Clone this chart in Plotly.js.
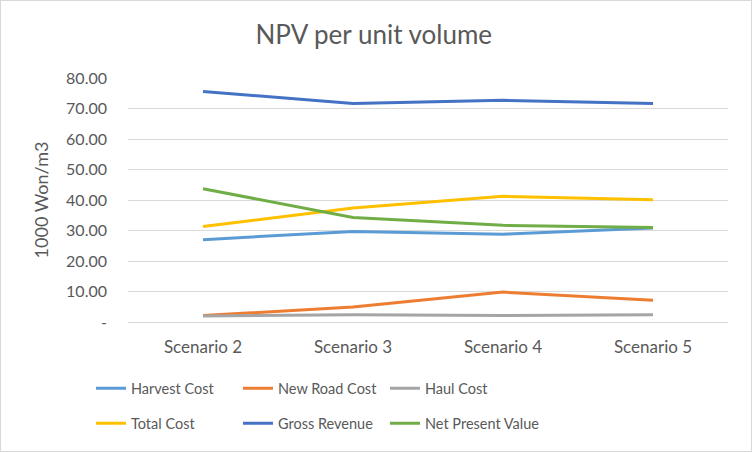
<!DOCTYPE html>
<html>
<head>
<meta charset="utf-8">
<script src="https://cdn.plot.ly/plotly-3.0.1.min.js"></script>
<style>
  html, body { margin: 0; padding: 0; background: #fff; }
  #frame { width: 752px; height: 452px; box-sizing: border-box; border: 1px solid #D9D9D9; }
  #chart { width: 750px; height: 450px; }
</style>
</head>
<body>
<div id="frame"><div id="chart"></div></div>
<script>
const categories = ["Scenario 2", "Scenario 3", "Scenario 4", "Scenario 5"];
const harvestCost = [27.0, 29.7, 28.8, 30.8];
const newRoadCost = [2.1, 4.9, 9.8, 7.1];
const haulCost = [2.0, 2.4, 2.1, 2.4];
const totalCost = [31.3, 37.4, 41.2, 40.1];
const grossRevenue = [75.6, 71.6, 72.7, 71.6];
const netPresentValue = [43.7, 34.3, 31.7, 31.0];
const yTickVals = [0, 10, 20, 30, 40, 50, 60, 70, 80];
const yTickText = ["-", "10.00", "20.00", "30.00", "40.00", "50.00", "60.00", "70.00", "80.00"];

const seriesDefs = [
  ["Harvest Cost", harvestCost, "#5B9BD5"],
  ["New Road Cost", newRoadCost, "#ED7D31"],
  ["Haul Cost", haulCost, "#A5A5A5"],
  ["Total Cost", totalCost, "#FFC000"],
  ["Gross Revenue", grossRevenue, "#4472C4"],
  ["Net Present Value", netPresentValue, "#70AD47"]
];

const legendIds = ["legend", "legend2", "legend3", "legend4", "legend5", "legend6"];

const traces = seriesDefs.map(([name, vals, color], i) => ({
  type: "scatter",
  mode: "lines",
  name: name,
  x: categories,
  y: vals,
  legend: legendIds[i],
  line: { color: color, width: 3 }
}));

const font = "Lato, 'Open Sans', sans-serif";
const legendCommon = {
  orientation: "h",
  xanchor: "left",
  yanchor: "middle",
  font: { family: font, size: 14.5, color: "#595959" },
  itemwidth: 30,
  bgcolor: "rgba(0,0,0,0)"
};
const colX = [-0.0617, 0.1833, 0.4283];
const rowY = [-0.272, -0.415];

const layout = {
  width: 750,
  height: 450,
  margin: { l: 127, r: 23, t: 77, b: 129 },
  paper_bgcolor: "#fff",
  plot_bgcolor: "#fff",
  font: { family: font, color: "#595959", size: 16 },
  title: {
    text: "NPV per unit volume",
    font: { family: font, size: 26, color: "#595959" },
    x: 0.497, xanchor: "center",
    y: 0.924, yanchor: "middle", yref: "container"
  },
  xaxis: {
    type: "category",
    range: [-0.5, 3.5],
    showgrid: false,
    showline: false,
    zeroline: false,
    ticks: "",
    tickfont: { family: font, size: 17, color: "#595959" },
    ticklabelstandoff: 13,
    fixedrange: true
  },
  yaxis: {
    range: [0, 80],
    tickvals: yTickVals,
    ticktext: yTickText,
    showgrid: true,
    gridcolor: "#D9D9D9",
    gridwidth: 1,
    zeroline: true,
    zerolinecolor: "#D9D9D9",
    zerolinewidth: 1,
    showline: false,
    ticks: "",
    ticklabelstandoff: 20,
    tickfont: { family: font, size: 16, color: "#595959" },
    title: { text: "1000 Won/m3", font: { family: font, size: 18, color: "#595959" }, standoff: 12 },
    fixedrange: true
  },
  showlegend: true
};
legendIds.forEach((id, i) => {
  layout[id] = Object.assign({}, legendCommon, { x: colX[i % 3], y: rowY[Math.floor(i / 3)] });
});

Plotly.newPlot("chart", traces, layout, { displayModeBar: false, staticPlot: true });
</script>
</body>
</html>
